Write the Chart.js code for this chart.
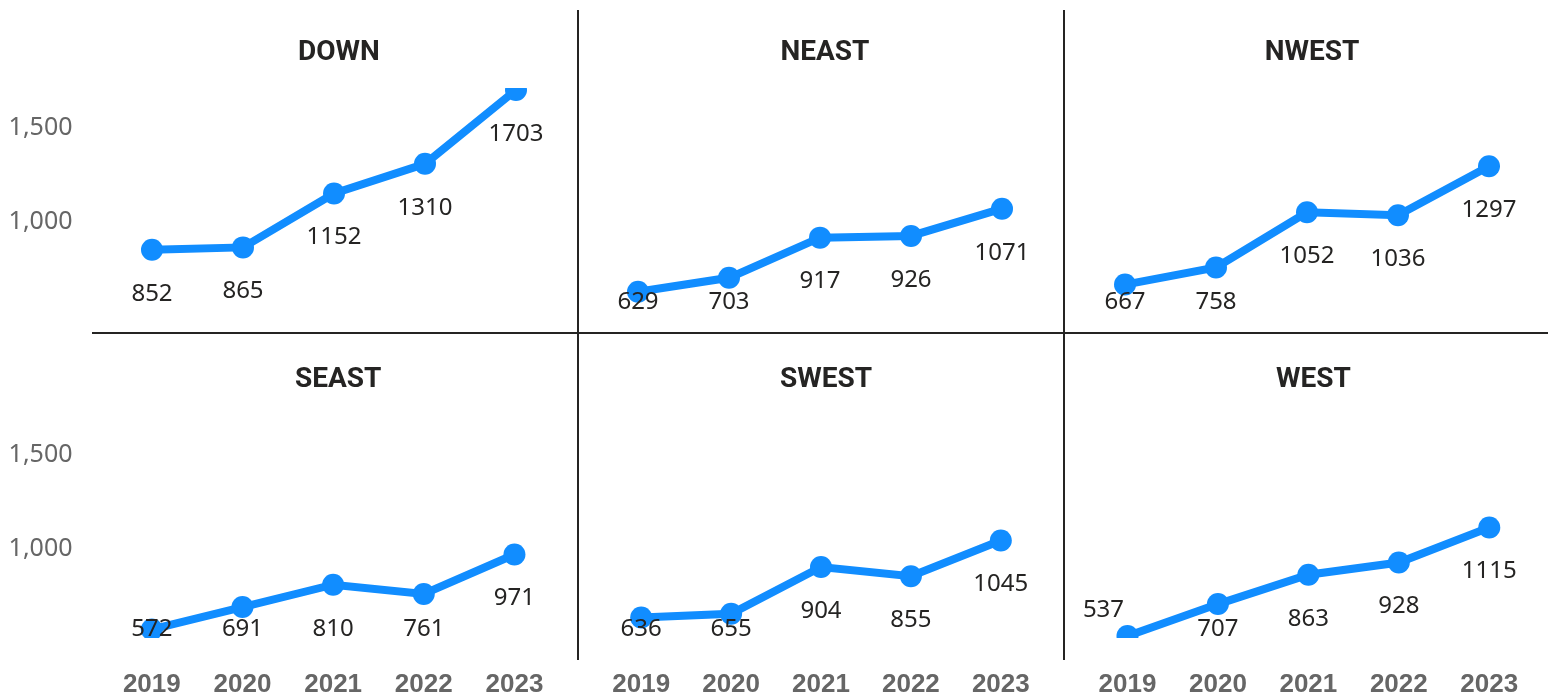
<!DOCTYPE html>
<html>
<head>
<meta charset="utf-8">
<script src="https://cdn.jsdelivr.net/npm/chart.js@4"></script>
<style>
  body { margin: 0; background: #fff; }
  #wrap { position: relative; width: 1553px; height: 696px; overflow: hidden; }
  #wrap canvas { position: absolute; }
  .vline { position: absolute; width: 2px; background: #252423; top: 10px; height: 650px; }
  .hline { position: absolute; height: 2px; background: #252423; top: 332px; left: 92px; width: 1456px; }
</style>
</head>
<body>
<div id="wrap">
  <div class="hline"></div>
  <div class="vline" style="left:577px"></div>
  <div class="vline" style="left:1063px"></div>
</div>
<script>
// small multiples: sales by region and year
const regions = ['DOWN', 'NEAST', 'NWEST', 'SEAST', 'SWEST', 'WEST'];
const years = ['2019', '2020', '2021', '2022', '2023'];
const down = [852, 865, 1152, 1310, 1703];
const neast = [629, 703, 917, 926, 1071];
const nwest = [667, 758, 1052, 1036, 1297];
const seast = [572, 691, 810, 761, 971];
const swest = [636, 655, 904, 855, 1045];
const west = [537, 707, 863, 928, 1115];
const yTicks = [1000, 1500];

const seriesList = [down, neast, nwest, seast, swest, west];
const allValues = seriesList.flat();
const yMin = Math.min(...allValues);
const yMax = Math.max(...allValues);

const blue = '#118DFF';

const cols = [
    { left: 0, width: 578, padL: 0, padR: 16.5 },
    { left: 578, width: 486, padL: 14.5, padR: 16.5 },
    { left: 1064, width: 489, padL: 15.5, padR: 18.5 }
];
const rows = [
    { top: 0, height: 333, padT: 90, padB: 24, titleY: 53, showX: false },
    { top: 333, height: 363, padT: 84, padB: 0, titleY: 47, showX: true }
];

// panel title, centred over the plot area
const panelTitle = {
    id: 'panelTitle',
    afterDraw(chart, args, opts) {
        const { ctx, chartArea } = chart;
        ctx.save();
        ctx.font = 'bold 28px Roboto';
        ctx.fillStyle = '#252423';
        ctx.textAlign = 'center';
        ctx.textBaseline = 'middle';
        ctx.fillText(opts.text, (chartArea.left + chartArea.right) / 2 + 5, opts.y);
        ctx.restore();
    }
};

const valueLabels = {
    id: 'valueLabels',
    afterDatasetsDraw(chart) {
        const { ctx, chartArea } = chart;
        const meta = chart.getDatasetMeta(0);
        const data = chart.data.datasets[0].data;
        ctx.save();
        ctx.font = '24px "Noto Sans"';
        ctx.fillStyle = '#252423';
        ctx.textAlign = 'center';
        ctx.textBaseline = 'middle';
        meta.data.forEach((pt, i) => {
            let x = pt.x;
            let y = Math.min(pt.y + 44, chartArea.bottom - 7);
            if (pt.y > chartArea.bottom - 2) {
                // point sits on the floor: put label above-left
                x -= 24;
                y = pt.y - 26;
            }
            ctx.fillText(String(data[i]), x, y);
        });
        ctx.restore();
    }
};

const wrap = document.getElementById('wrap');

regions.forEach((name, idx) => {
    const col = cols[idx % 3];
    const row = rows[Math.floor(idx / 3)];
    const canvas = document.createElement('canvas');
    canvas.width = col.width;
    canvas.height = row.height;
    canvas.style.left = col.left + 'px';
    canvas.style.top = row.top + 'px';
    canvas.style.width = col.width + 'px';
    canvas.style.height = row.height + 'px';
    wrap.appendChild(canvas);

    const isLeft = idx % 3 === 0;

    const xScale = {
        display: row.showX,
        offset: true,
        grid: { display: false, drawTicks: false },
        border: { display: false },
        ticks: {
            color: '#666666',
            padding: 33,
            font: { family: 'Liberation Sans', size: 26, weight: 'bold' }
        }
    };
    if (row.showX) xScale.afterFit = s => { s.height = 60; };

    const yScale = {
        display: isLeft,
        min: yMin,
        max: yMax,
        grid: { display: false, drawTicks: false },
        border: { display: false },
        afterBuildTicks: s => { s.ticks = yTicks.map(v => ({ value: v })); },
        ticks: {
            color: '#666666',
            padding: 34,
            font: { family: 'Noto Sans', size: 25 },
            callback: v => v.toLocaleString('en-US')
        }
    };
    if (isLeft) {
        yScale.afterFit = s => {
            s.width = 106.5;
            s.paddingTop = 0;
            s.paddingBottom = 0;
        };
    }

    new Chart(canvas.getContext('2d'), {
        type: 'line',
        data: {
            labels: years,
            datasets: [{
                label: name,
                data: seriesList[idx],
                borderColor: blue,
                backgroundColor: blue,
                borderWidth: 8,
                pointRadius: 11,
                pointHoverRadius: 11,
                pointBackgroundColor: blue,
                pointBorderWidth: 0,
                tension: 0,
                clip: { left: false, right: false, top: 2, bottom: 2 }
            }]
        },
        options: {
            responsive: false,
            animation: false,
            layout: {
                padding: { left: col.padL, right: col.padR, top: row.padT, bottom: row.padB }
            },
            plugins: {
                legend: { display: false },
                tooltip: { enabled: false },
                title: { display: false },
                panelTitle: { text: name, y: row.titleY }
            },
            scales: { x: xScale, y: yScale }
        },
        plugins: [valueLabels, panelTitle]
    });
});
</script>
</body>
</html>
